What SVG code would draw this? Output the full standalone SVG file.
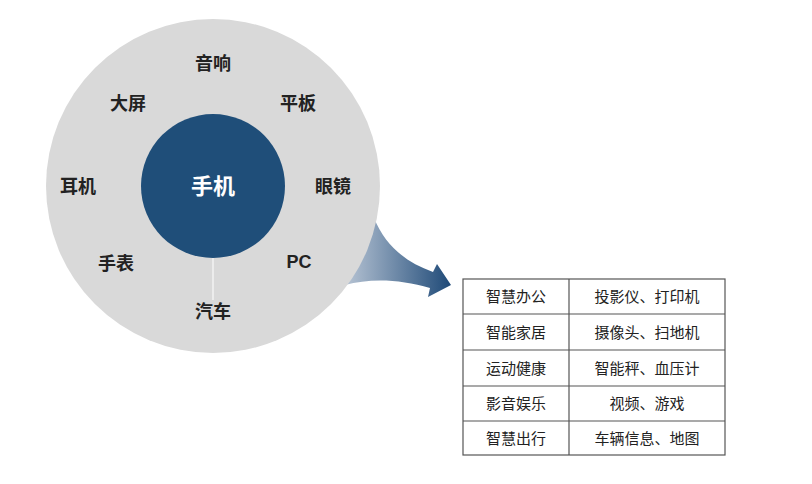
<svg xmlns="http://www.w3.org/2000/svg" width="812" height="484" viewBox="0 0 812 484">
<style>
.l{font-family:"Liberation Sans","Noto Sans CJK SC",sans-serif;font-size:18px;font-weight:bold;fill:#222;text-anchor:middle}
.t{font-family:"Liberation Sans","Noto Sans CJK SC",sans-serif;font-size:15px;fill:#222;text-anchor:middle}
.g{fill:none;stroke:#555;stroke-width:1.2}
</style>
<defs><linearGradient id="ag" x1="0" x2="1"><stop offset="0" stop-color="#b7c4d4"/><stop offset="1" stop-color="#1f4a78"/></linearGradient></defs>
<rect width="812" height="484" fill="#fff"/>
<g id="connectors">
<path d="M374,218 C385,245 405,262 433,272 L437,264 L451,285 L428,297 L430,288 C400,279 370,278 345,285 Z" fill="url(#ag)"/>
</g>
<g id="outer"><circle cx="213" cy="186" r="167" fill="#d9d9d9"/>
<line x1="213" y1="258" x2="213" y2="300" stroke="#f2f2f2" stroke-width="1.5"/>
<text class="l" x="213" y="70">音响</text><text class="l" x="128" y="110">大屏</text><text class="l" x="298" y="110">平板</text>
<text class="l" x="78" y="193">耳机</text><text class="l" x="333" y="193">眼镜</text><text class="l" x="116" y="270">手表</text>
<text class="l" x="299" y="268">PC</text><text class="l" x="213" y="318">汽车</text></g>
<g id="center"><circle cx="213" cy="186" r="72" fill="#1f4e79"/>
<text x="213" y="194" font-family="Liberation Sans,Noto Sans CJK SC,sans-serif" font-size="22" font-weight="bold" fill="#fff" text-anchor="middle">手机</text></g>
<g id="table">
<rect class="g" x="463" y="279" width="262" height="176"/>
<path class="g" d="M569,279V455M463,314H725M463,350H725M463,386H725M463,421H725"/>
<text class="t" x="516" y="302">智慧办公</text><text class="t" x="647" y="302">投影仪、打印机</text>
<text class="t" x="516" y="338">智能家居</text><text class="t" x="647" y="338">摄像头、扫地机</text>
<text class="t" x="516" y="374">运动健康</text><text class="t" x="647" y="374">智能秤、血压计</text>
<text class="t" x="516" y="409">影音娱乐</text><text class="t" x="647" y="409">视频、游戏</text>
<text class="t" x="516" y="444">智慧出行</text><text class="t" x="647" y="444">车辆信息、地图</text>
</g>
</svg>
